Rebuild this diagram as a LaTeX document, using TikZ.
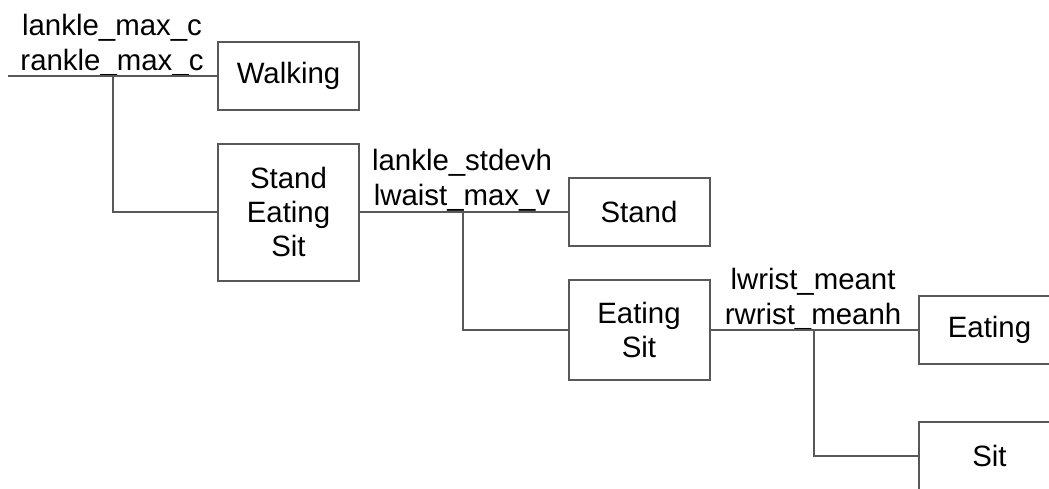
\documentclass[tikz,border=0pt]{standalone}
\usepackage{fontspec}
\setmainfont{Liberation Sans}
\usetikzlibrary{positioning}
\definecolor{linegray}{RGB}{88,88,88}
\tikzset{
  leafbox/.style={draw=linegray, line width=1pt, minimum width=70.5pt, minimum height=34pt,
    inner sep=0pt, align=center, font=\fontsize{14.7}{17}\selectfont},
  splitlbl/.style={anchor=south, align=center, inner sep=0pt, font=\fontsize{14.7}{17.5}\selectfont},
  link/.style={draw=linegray, line width=1pt},
}
\begin{document}
\begin{tikzpicture}[x=0.5pt,y=0.5pt,yscale=-1,xscale=1]
\clip (0,0) rectangle (1049,488);

%Boxes
\node[leafbox] (walk) at (288.5,76) {Walking};
\node[leafbox, minimum height=68.5pt] (ses) at (288.5,212) {Stand\\Eating\\Sit};
\node[leafbox] (stand) at (639,212) {Stand};
\node[leafbox, minimum height=50pt] (es) at (639,330) {Eating\\Sit};
\node[leafbox] (eat) at (989.5,330) {Eating};
\node[leafbox] (sit) at (989.5,456) {Sit};

%Split points
\coordinate (root) at (8,76);
\coordinate (s1) at (113,76);
\coordinate (s2) at (463,212);
\coordinate (s3) at (814,330);

%Split labels
\node[splitlbl] (l1) at (112,77) {lankle\_max\_c\\rankle\_max\_c};
\node[splitlbl] (l2) at (462,212) {lankle\_stdevh\\lwaist\_max\_v};
\node[splitlbl] (l3) at (813,331) {lwrist\_meant\\rwrist\_meanh};

%Straight Lines
\draw[link] (root) -- (walk.west);
\draw[link] (s1) |- (ses.west);
\draw[link] (ses.east) -- (stand.west);
\draw[link] (s2) |- (es.west);
\draw[link] (es.east) -- (eat.west);
\draw[link] (s3) |- (sit.west);

\end{tikzpicture}
\end{document}
